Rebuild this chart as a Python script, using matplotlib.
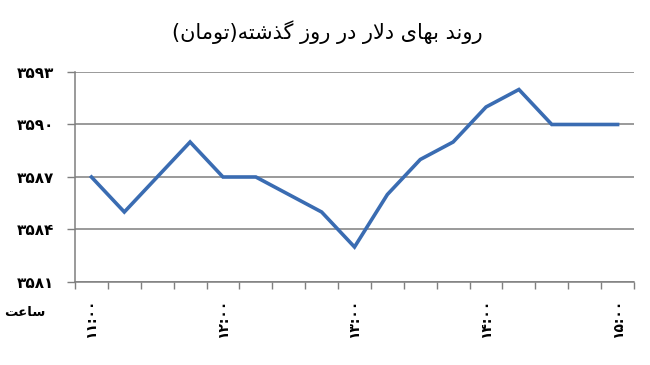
import numpy as np
import matplotlib
matplotlib.use("Agg")
import matplotlib.pyplot as plt

# data (toman), one value every 15 minutes from 11:00 to 15:00
times = ["11:00", "11:15", "11:30", "11:45", "12:00", "12:15", "12:30", "12:45",
         "13:00", "13:15", "13:30", "13:45", "14:00", "14:15", "14:30", "14:45", "15:00"]
prices = [3587, 3585, 3587, 3589, 3587, 3587, 3586, 3585,
          3583, 3586, 3588, 3589, 3591, 3592, 3590, 3590, 3590]
y_ticks = [3581, 3584, 3587, 3590, 3593]
title = "روند بهای دلار در روز گذشته(تومان)"
x_title = "ساعت"

FA_DIGITS = str.maketrans("0123456789", "۰۱۲۳۴۵۶۷۸۹")

# matplotlib has no arabic shaping, so map letters to presentation forms
# (isolated, final, initial, medial) and reverse for display
FORMS = {
    "ا": ("\uFE8D", "\uFE8E", None, None),
    "ب": ("\uFE8F", "\uFE90", "\uFE91", "\uFE92"),
    "ت": ("\uFE95", "\uFE96", "\uFE97", "\uFE98"),
    "د": ("\uFEA9", "\uFEAA", None, None),
    "ذ": ("\uFEAB", "\uFEAC", None, None),
    "ر": ("\uFEAD", "\uFEAE", None, None),
    "ز": ("\uFEAF", "\uFEB0", None, None),
    "س": ("\uFEB1", "\uFEB2", "\uFEB3", "\uFEB4"),
    "ش": ("\uFEB5", "\uFEB6", "\uFEB7", "\uFEB8"),
    "ع": ("\uFEC9", "\uFECA", "\uFECB", "\uFECC"),
    "ل": ("\uFEDD", "\uFEDE", "\uFEDF", "\uFEE0"),
    "م": ("\uFEE1", "\uFEE2", "\uFEE3", "\uFEE4"),
    "ن": ("\uFEE5", "\uFEE6", "\uFEE7", "\uFEE8"),
    "ه": ("\uFEE9", "\uFEEA", "\uFEEB", "\uFEEC"),
    "و": ("\uFEED", "\uFEEE", None, None),
    "ی": ("\uFBFC", "\uFBFD", "\uFBFE", "\uFBFF"),
    "گ": ("\uFB92", "\uFB93", "\uFB94", "\uFB95"),
}


def shape(text):
    out = []
    n = len(text)
    i = 0
    while i < n:
        ch = text[i]
        if ch not in FORMS:
            out.append(ch)
            i += 1
            continue
        prev = text[i - 1] if i > 0 else ""
        joins_prev = prev in FORMS and FORMS[prev][2] is not None
        # lam + alef ligature
        if ch == "ل" and i + 1 < n and text[i + 1] == "ا":
            out.append("\uFEFC" if joins_prev else "\uFEFB")
            i += 2
            continue
        nxt = text[i + 1] if i + 1 < n else ""
        joins_next = FORMS[ch][2] is not None and nxt in FORMS
        iso, fin, ini, med = FORMS[ch]
        if joins_prev and joins_next:
            out.append(med)
        elif joins_prev:
            out.append(fin)
        elif joins_next:
            out.append(ini)
        else:
            out.append(iso)
        i += 1
    vis = "".join(reversed(out))
    return vis.translate(str.maketrans("()", ")("))


x = np.arange(len(times))

fig = plt.figure(figsize=(6.5, 3.65), dpi=100)
ax = fig.add_axes([75 / 650, 1 - 282 / 365, (634 - 75) / 650, 210 / 365])

ax.plot(x, prices, color="#3a6cb2", linewidth=2.6, solid_joinstyle="miter")

ax.set_xlim(-0.5, len(times) - 0.5)
ax.set_ylim(y_ticks[0], y_ticks[-1])
ax.set_yticks(y_ticks)
ax.set_yticklabels([str(v).translate(FA_DIGITS) for v in y_ticks],
                   fontsize=11, fontweight="bold")
ax.yaxis.grid(True, color="#7f7f7f", linewidth=1.1)
ax.set_axisbelow(True)

# category boundaries get the tick marks, hour labels sit at the centres
ax.set_xticks(np.arange(-0.5, len(times)), minor=True)
ax.tick_params(axis="x", which="minor", length=5, color="#7f7f7f", width=1)
lab_idx = [i for i, t in enumerate(times) if t.endswith(":00")]
ax.set_xticks(lab_idx)
ax.set_xticklabels([times[i].translate(FA_DIGITS) for i in lab_idx],
                   rotation=90, fontsize=10, fontweight="bold")
ax.tick_params(axis="x", which="major", length=0, pad=12)
ax.tick_params(axis="y", length=6, color="#7f7f7f", width=1, pad=9)

for side in ["top", "right"]:
    ax.spines[side].set_visible(False)
for side in ["left", "bottom"]:
    ax.spines[side].set_color("#7f7f7f")
    ax.spines[side].set_linewidth(1.1)

fig.text(327 / 650, 1 - 32 / 365, shape(title), ha="center", va="center", fontsize=15)
fig.text(25 / 650, 1 - 312 / 365, shape(x_title), ha="center", va="center",
         fontsize=9.5, fontweight="bold")

fig.savefig("out.png", dpi=100)
